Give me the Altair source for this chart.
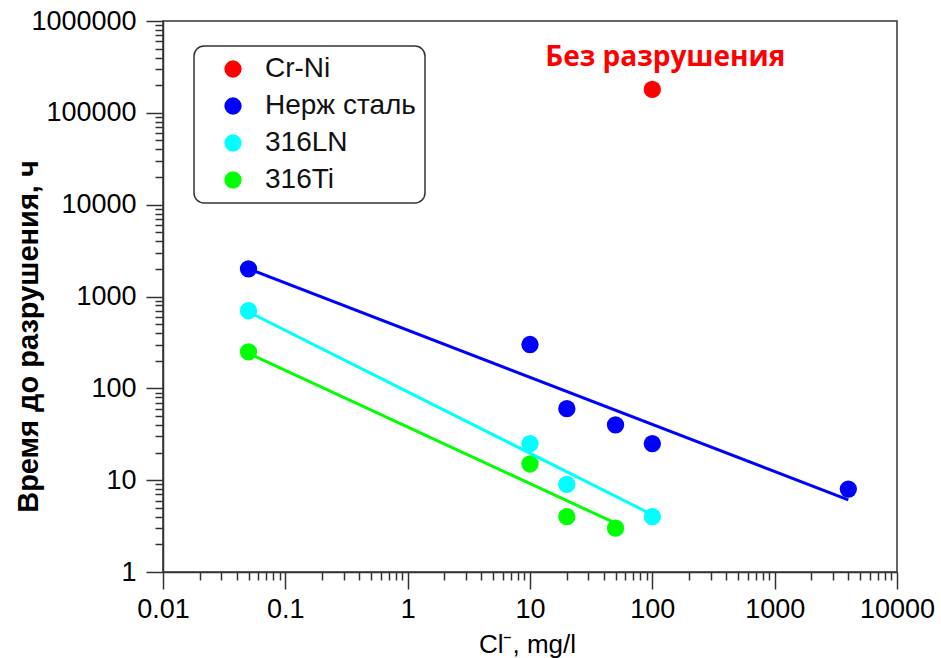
import altair as alt
import pandas as pd

# ---- data ----
series_names = ["Cr-Ni", "Нерж сталь", "316LN", "316Ti"]
series_colors = ["#FF0000", "#0000FF", "#00FFFF", "#00FF00"]

crni_x = [100]
crni_y = [180000]
steel_x = [0.05, 10, 20, 50, 100, 4000]
steel_y = [2000, 300, 60, 40, 25, 8]
ln_x = [0.05, 10, 20, 100]
ln_y = [700, 25, 9, 4]
ti_x = [0.05, 10, 20, 50]
ti_y = [250, 15, 4, 3]

# fitted trend lines (end points)
steel_fit_x = [0.05, 4000]
steel_fit_y = [2000, 6.1]
ln_fit_x = [0.05, 100]
ln_fit_y = [680, 4.2]
ti_fit_x = [0.05, 50]
ti_fit_y = [240, 3.4]

annot_x = [100]
annot_y = [320000]
annot_text = ["Без разрушения"]

x_major = [0.01, 0.1, 1, 10, 100, 1000, 10000]
y_major = [1, 10, 100, 1000, 10000, 100000, 1000000]

x_title = "Cl⁻, mg/l"
y_title = "Время до разрушения, ч"

# ---- build tables ----
def minor_ticks(majors):
    vals = []
    for m in majors[:-1]:
        for k in range(2, 10):
            vals.append(float(f"{k * m:.10g}"))
    return vals

x_ticks = sorted(x_major + minor_ticks(x_major))
y_ticks = sorted(y_major + minor_ticks(y_major))

pts = pd.concat([
    pd.DataFrame({"x": crni_x, "y": crni_y, "s": series_names[0]}),
    pd.DataFrame({"x": steel_x, "y": steel_y, "s": series_names[1]}),
    pd.DataFrame({"x": ln_x, "y": ln_y, "s": series_names[2]}),
    pd.DataFrame({"x": ti_x, "y": ti_y, "s": series_names[3]}),
], ignore_index=True)

lines = pd.concat([
    pd.DataFrame({"x": steel_fit_x, "y": steel_fit_y, "s": series_names[1]}),
    pd.DataFrame({"x": ln_fit_x, "y": ln_fit_y, "s": series_names[2]}),
    pd.DataFrame({"x": ti_fit_x, "y": ti_fit_y, "s": series_names[3]}),
], ignore_index=True)

ann = pd.DataFrame({"x": annot_x, "y": annot_y, "t": annot_text})

FONT = "Liberation Sans"
x_major_js = "[" + ",".join(repr(v) for v in x_major) + "]"
y_major_js = "[" + ",".join(repr(v) for v in y_major) + "]"

xscale = alt.Scale(type="log", domain=[x_major[0], x_major[-1]], nice=False)
yscale = alt.Scale(type="log", domain=[y_major[0], y_major[-1]], nice=False)
cscale = alt.Scale(domain=series_names, range=series_colors)

x_axis = alt.Axis(
    values=x_ticks,
    labelExpr=f"indexof({x_major_js}, datum.value) >= 0 ? datum.value + '' : ''",
    tickSize={"condition": {"test": f"indexof({x_major_js}, datum.value) >= 0", "value": 17}, "value": 8},
    labelPadding=7,
    labelFontSize=27,
    title=x_title,
    titleFontSize=26,
    titleFontWeight="normal",
    titleX=364,
    titleY=80,
    titleAlign="center",
    titleBaseline="alphabetic",
    labelOverlap=False,
    labelFlush=False,
)
y_axis = alt.Axis(
    values=y_ticks,
    labelExpr=f"indexof({y_major_js}, datum.value) >= 0 ? datum.value + '' : ''",
    tickSize={"condition": {"test": f"indexof({y_major_js}, datum.value) >= 0", "value": 17}, "value": 8},
    labelPadding=10,
    labelFontSize=27,
    title=y_title,
    titleFontSize=29,
    titleFontWeight="bold",
    titleAngle=270,
    titleX=-126,
    titleY=315,
    titleAlign="center",
    titleBaseline="alphabetic",
    labelOverlap=False,
    labelFlush=False,
)

points = alt.Chart(pts).mark_circle(size=300, opacity=1).encode(
    x=alt.X("x:Q", scale=xscale, axis=x_axis),
    y=alt.Y("y:Q", scale=yscale, axis=y_axis),
    color=alt.Color(
        "s:N",
        scale=cscale,
        legend=alt.Legend(
            title=None,
            orient="none",
            legendX=31,
            legendY=25,
            symbolType="circle",
            symbolSize=250,
            symbolOffset=16,
            labelOffset=18,
            labelFontSize=28,
            labelFont=FONT,
            labelColor="#111",
            rowPadding=9,
            padding=9,
            strokeColor="#333",
            cornerRadius=10,
            fillColor="white",
        ),
    ),
)

trend = alt.Chart(lines).mark_line(strokeWidth=3).encode(
    x=alt.X("x:Q", scale=xscale),
    y=alt.Y("y:Q", scale=yscale),
    color=alt.Color("s:N", scale=cscale, legend=None),
    detail="s:N",
)

label = alt.Chart(ann).mark_text(
    font="Open Sans", fontWeight="bold", fontSize=28, color="#FF0000",
    dx=13, baseline="alphabetic", align="center",
).encode(
    x=alt.X("x:Q", scale=xscale),
    y=alt.Y("y:Q", scale=yscale),
    text="t:N",
)

chart = alt.layer(points, trend, label).properties(
    width=734,
    height=551,
    autosize=alt.AutoSizeParams(type="none"),
    padding={"left": 163, "top": 21, "right": 44, "bottom": 86},
    background="white",
).configure_view(
    stroke="#333", strokeWidth=1.5
).configure_axis(
    grid=False,
    domainColor="#333",
    domainWidth=1.5,
    tickColor="#333",
    tickWidth=1.5,
    labelColor="#000",
    titleColor="#000",
    labelFont=FONT,
    titleFont=FONT,
).configure_legend(
    strokeWidth=1.5,
)

chart.save("out.html", embed_options={"renderer": "svg", "actions": False})
